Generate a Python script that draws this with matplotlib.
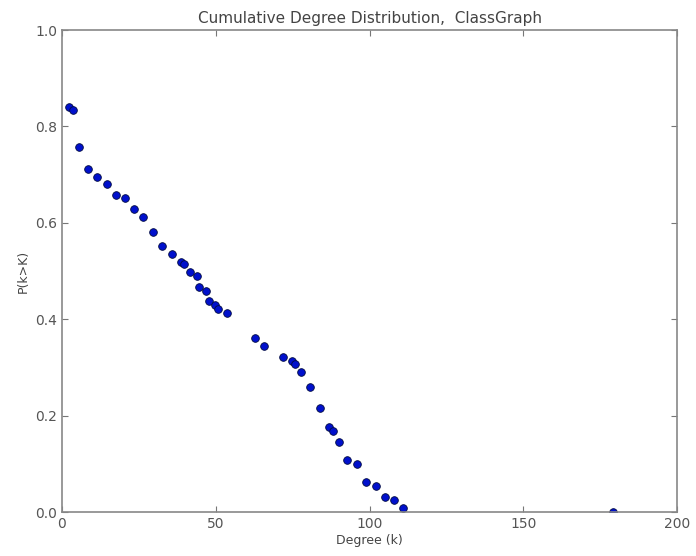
import matplotlib
matplotlib.use("Agg")
import matplotlib.pyplot as plt

degree = [2.3, 3.6, 5.5, 8.5, 11.4, 14.6, 17.6, 20.5, 23.4, 26.3, 29.6, 32.5, 35.8,
          38.7, 39.7, 41.6, 43.9, 44.6, 46.8, 47.8, 49.8, 50.7, 53.7,
          62.8, 65.7, 71.9, 74.8, 75.8, 77.7, 80.7, 83.9, 86.8, 88.1, 90.1,
          92.7, 95.9, 98.9, 102.1, 105.0, 107.9, 110.9, 179.2]
prob = [0.840, 0.834, 0.757, 0.712, 0.695, 0.680, 0.658, 0.651, 0.629, 0.612, 0.581, 0.552, 0.535,
        0.519, 0.515, 0.498, 0.490, 0.467, 0.459, 0.438, 0.429, 0.421, 0.413,
        0.361, 0.344, 0.322, 0.313, 0.307, 0.290, 0.259, 0.216, 0.176, 0.168, 0.145,
        0.108, 0.100, 0.062, 0.054, 0.031, 0.025, 0.008, 0.0]

title = "Cumulative Degree Distribution,  ClassGraph"
xlabel = "Degree (k)"
ylabel = "P(k>K)"

fig = plt.figure(figsize=(6.96, 5.56), dpi=100)
ax = fig.add_axes([0.089, 0.079, 0.884, 0.867])
ax.plot(degree, prob, 'o', color='#0010cc', markeredgecolor='#000a40',
        markeredgewidth=0.6, markersize=5.5, clip_on=True)
ax.set_xlim(0, 200)
ax.set_ylim(0, 1.0)
ax.set_xticks([0, 50, 100, 150, 200])
ax.set_yticks([0.0, 0.2, 0.4, 0.6, 0.8, 1.0])
ax.set_yticklabels(["0.0", "0.2", "0.4", "0.6", "0.8", "1.0"])
ax.tick_params(direction='in', top=True, right=True, length=4, width=0.8,
               colors='#777777', labelcolor='#555555', labelsize=10)
for s in ax.spines.values():
    s.set_color('#888888')
    s.set_linewidth(1.2)
ax.set_title(title, fontsize=11, color='#444444', pad=5)
ax.set_xlabel(xlabel, fontsize=9, color='#444444', labelpad=2)
ax.set_ylabel(ylabel, fontsize=9, color='#444444', labelpad=4)
fig.savefig("out.png", dpi=100, facecolor='white')
